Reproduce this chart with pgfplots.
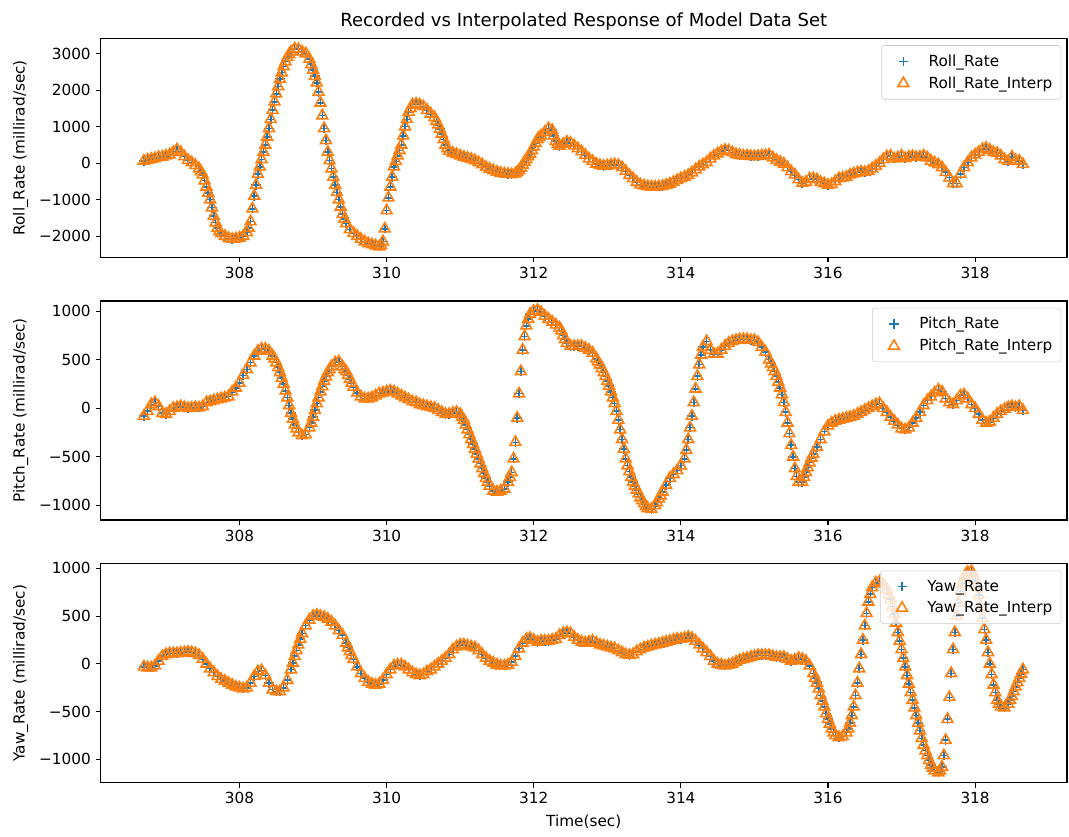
\documentclass[border=0pt]{standalone}
\usepackage{fontspec}
\setmainfont{DejaVu Sans}
\usepackage{pgfplots}
\usepackage{pgfplotstable}
\pgfplotsset{compat=1.18}
\definecolor{cA}{HTML}{1F77B4}
\definecolor{cB}{HTML}{FF7F0E}

\pgfplotstableread{
t v
306.70 60
306.75 90
306.80 110
306.85 130
306.90 160
306.95 170
307.00 200
307.05 230
307.10 300
307.15 370
307.20 300
307.25 180
307.30 80
307.35 20
307.40 -60
307.45 -150
307.50 -320
307.55 -650
307.60 -1000
307.65 -1450
307.70 -1780
307.75 -1930
307.80 -2000
307.85 -2060
307.90 -2080
307.95 -2070
308.00 -2050
308.05 -2000
308.10 -1900
308.15 -1600
308.20 -900
308.25 -300
308.30 100
308.35 500
308.40 950
308.45 1450
308.50 1900
308.55 2300
308.60 2650
308.65 2900
308.70 3050
308.75 3130
308.80 3120
308.85 3050
308.90 3000
308.95 2850
309.00 2550
309.05 2200
309.10 1650
309.15 950
309.20 300
309.25 -150
309.30 -600
309.35 -1000
309.40 -1400
309.45 -1650
309.50 -1820
309.55 -1920
309.60 -2000
309.65 -2080
309.70 -2150
309.75 -2200
309.80 -2230
309.85 -2260
309.90 -2290
309.95 -2150
310.00 -1300
310.05 -650
310.10 -100
310.15 200
310.20 500
310.25 1000
310.30 1400
310.35 1600
310.40 1620
310.45 1600
310.50 1550
310.55 1450
310.60 1350
310.65 1250
310.70 1050
310.75 800
310.80 500
310.85 330
310.90 280
310.95 240
311.00 200
311.05 170
311.10 140
311.15 110
311.20 70
311.25 20
311.30 -40
311.35 -110
311.40 -160
311.45 -200
311.50 -240
311.55 -270
311.60 -290
311.65 -300
311.70 -310
311.75 -290
311.80 -200
311.85 -50
311.90 100
311.95 250
312.00 450
312.05 650
312.10 750
312.15 850
312.20 950
312.25 900
312.30 600
312.35 470
312.40 520
312.45 580
312.50 550
312.55 480
312.60 400
312.65 320
312.70 220
312.75 120
312.80 50
312.85 -20
312.90 -60
312.95 -80
313.00 -70
313.05 -50
313.10 -40
313.15 -60
313.20 -120
313.25 -220
313.30 -330
313.35 -420
313.40 -520
313.45 -590
313.50 -620
313.55 -640
313.60 -650
313.65 -650
313.70 -640
313.75 -630
313.80 -600
313.85 -570
313.90 -520
313.95 -470
314.00 -420
314.05 -380
314.10 -330
314.15 -260
314.20 -180
314.25 -100
314.30 -40
314.35 20
314.40 120
314.45 200
314.50 260
314.55 320
314.60 360
314.65 340
314.70 290
314.75 240
314.80 220
314.85 200
314.90 200
314.95 190
315.00 180
315.05 190
315.10 200
315.15 210
315.20 230
315.25 150
315.30 80
315.35 30
315.40 -20
315.45 -120
315.50 -230
315.55 -320
315.60 -450
315.65 -550
315.70 -520
315.75 -430
315.80 -420
315.85 -450
315.90 -520
315.95 -560
316.00 -600
316.05 -580
316.10 -500
316.15 -420
316.20 -400
316.25 -380
316.30 -320
316.35 -290
316.40 -260
316.45 -240
316.50 -250
316.55 -220
316.60 -150
316.65 -80
316.70 0
316.75 100
316.80 180
316.85 200
316.90 120
316.95 150
317.00 200
317.05 130
317.10 170
317.15 190
317.20 160
317.25 170
317.30 200
317.35 150
317.40 60
317.45 10
317.50 -40
317.55 -120
317.60 -250
317.65 -400
317.70 -560
317.75 -560
317.80 -300
317.85 -120
317.90 20
317.95 150
318.00 230
318.05 300
318.10 380
318.15 410
318.20 360
318.25 300
318.30 270
318.35 200
318.40 100
318.45 50
318.50 170
318.55 80
318.60 60
318.65 -30
307.475 -230
307.525 -480
307.575 -820
307.625 -1220
307.675 -1630
307.725 -1870
308.125 -1780
308.175 -1250
308.225 -600
308.275 -100
308.325 300
308.375 720
308.425 1200
308.475 1680
308.525 2100
308.575 2480
308.625 2780
308.675 2980
308.975 2700
309.025 2380
309.075 1950
309.125 1300
309.175 620
309.225 70
309.275 -380
309.325 -800
309.375 -1200
309.425 -1530
309.925 -2250
309.975 -1800
310.025 -950
310.075 -380
310.125 50
310.175 350
310.225 750
310.275 1200
310.325 1500
310.675 1150
310.725 930
310.775 650
310.825 400
311.775 -250
311.825 -130
311.875 30
311.925 180
311.975 350
312.025 550
312.075 700
312.275 750
312.325 520
}\roll

\pgfplotstableread{
t v
306.70 -80
306.75 -30
306.80 40
306.85 60
306.90 20
306.95 -50
307.00 -60
307.05 -30
307.10 0
307.15 10
307.20 20
307.25 10
307.30 0
307.35 5
307.40 10
307.45 5
307.50 20
307.55 60
307.60 70
307.65 80
307.70 90
307.75 100
307.80 110
307.85 120
307.90 170
307.95 210
308.00 260
308.05 340
308.10 400
308.15 470
308.20 540
308.25 590
308.30 610
308.35 610
308.40 590
308.45 540
308.50 470
308.55 370
308.60 250
308.65 110
308.70 -50
308.75 -170
308.80 -250
308.85 -280
308.90 -270
308.95 -200
309.00 -90
309.05 50
309.10 170
309.15 280
309.20 370
309.25 430
309.30 470
309.35 480
309.40 430
309.45 380
309.50 300
309.55 220
309.60 160
309.65 120
309.70 100
309.75 100
309.80 110
309.85 130
309.90 150
309.95 160
310.00 170
310.05 180
310.10 170
310.15 150
310.20 130
310.25 110
310.30 90
310.35 70
310.40 60
310.45 40
310.50 30
310.55 20
310.60 10
310.65 0
310.70 -20
310.75 -40
310.80 -60
310.85 -60
310.90 -50
310.95 -40
311.00 -60
311.05 -120
311.10 -220
311.15 -320
311.20 -420
311.25 -520
311.30 -620
311.35 -720
311.40 -800
311.45 -850
311.50 -860
311.55 -850
311.60 -830
311.65 -760
311.70 -660
311.75 -350
311.80 150
311.85 600
311.90 850
311.95 970
312.00 1000
312.05 1010
312.10 990
312.15 950
312.20 920
312.25 890
312.30 860
312.35 830
312.40 750
312.45 670
312.50 640
312.55 640
312.60 640
312.65 640
312.70 620
312.75 600
312.80 570
312.85 510
312.90 450
312.95 370
313.00 280
313.05 170
313.10 50
313.15 -120
313.20 -320
313.25 -520
313.30 -650
313.35 -760
313.40 -840
313.45 -920
313.50 -980
313.55 -1030
313.60 -1040
313.65 -1000
313.70 -930
313.75 -860
313.80 -790
313.85 -720
313.90 -680
313.95 -640
314.00 -590
314.05 -520
314.10 -320
314.15 -80
314.20 200
314.25 450
314.30 630
314.35 690
314.40 600
314.45 560
314.50 560
314.55 600
314.60 640
314.65 670
314.70 690
314.75 700
314.80 710
314.85 710
314.90 710
314.95 700
315.00 700
315.05 680
315.10 630
315.15 580
315.20 500
315.25 420
315.30 330
315.35 210
315.40 60
315.45 -150
315.50 -380
315.55 -620
315.60 -760
315.65 -760
315.70 -660
315.75 -560
315.80 -470
315.85 -400
315.90 -320
315.95 -240
316.00 -180
316.05 -150
316.10 -130
316.15 -120
316.20 -110
316.25 -100
316.30 -90
316.35 -80
316.40 -60
316.45 -40
316.50 -20
316.55 0
316.60 20
316.65 40
316.70 50
316.75 0
316.80 -40
316.85 -90
316.90 -130
316.95 -170
317.00 -210
317.05 -220
317.10 -200
317.15 -150
317.20 -100
317.25 -40
317.30 30
317.35 80
317.40 120
317.45 160
317.50 190
317.55 170
317.60 100
317.65 60
317.70 40
317.75 80
317.80 130
317.85 140
317.90 100
317.95 40
318.00 0
318.05 -60
318.10 -120
318.15 -150
318.20 -140
318.25 -100
318.30 -60
318.35 -30
318.40 -10
318.45 10
318.50 20
318.55 10
318.60 20
318.65 -20
308.475 510
308.525 420
308.575 310
308.625 180
308.675 30
308.725 -110
308.775 -210
308.975 -150
309.025 -20
309.075 110
309.125 225
309.175 325
309.225 400
309.425 400
309.475 340
309.525 260
311.025 -90
311.075 -170
311.125 -270
311.175 -370
311.225 -470
311.275 -570
311.325 -670
311.375 -760
311.675 -710
311.725 -520
311.775 -100
311.825 380
311.875 740
311.925 920
312.375 800
312.425 710
312.875 480
312.925 410
312.975 330
313.025 230
313.075 110
313.125 -30
313.175 -220
313.225 -420
313.275 -590
313.325 -710
313.375 -800
313.425 -880
313.475 -950
313.525 -1010
313.675 -970
313.725 -900
314.075 -430
314.125 -200
314.175 60
314.225 330
314.275 550
315.225 460
315.275 380
315.325 270
315.375 140
315.425 -40
315.475 -260
315.525 -500
315.575 -700
315.675 -710
315.725 -610
315.775 -510
}\pitch

\pgfplotstableread{
t v
306.70 -30
306.75 -40
306.80 -40
306.85 -20
306.90 30
306.95 80
307.00 100
307.05 110
307.10 110
307.15 110
307.20 115
307.25 120
307.30 125
307.35 120
307.40 110
307.45 90
307.50 50
307.55 0
307.60 -50
307.65 -90
307.70 -130
307.75 -160
307.80 -180
307.85 -200
307.90 -220
307.95 -240
308.00 -250
308.05 -260
308.10 -250
308.15 -200
308.20 -130
308.25 -80
308.30 -70
308.35 -120
308.40 -200
308.45 -270
308.50 -290
308.55 -290
308.60 -250
308.65 -170
308.70 -60
308.75 80
308.80 200
308.85 320
308.90 400
308.95 460
309.00 500
309.05 510
309.10 500
309.15 490
309.20 470
309.25 440
309.30 400
309.35 350
309.40 300
309.45 220
309.50 130
309.55 50
309.60 -30
309.65 -100
309.70 -150
309.75 -190
309.80 -210
309.85 -220
309.90 -210
309.95 -170
310.00 -110
310.05 -60
310.10 -20
310.15 -10
310.20 -10
310.25 -30
310.30 -60
310.35 -90
310.40 -110
310.45 -120
310.50 -110
310.55 -80
310.60 -60
310.65 -30
310.70 0
310.75 30
310.80 60
310.85 100
310.90 150
310.95 180
311.00 200
311.05 200
311.10 190
311.15 180
311.20 170
311.25 140
311.30 100
311.35 60
311.40 30
311.45 10
311.50 -10
311.55 -20
311.60 -20
311.65 -10
311.70 20
311.75 80
311.80 160
311.85 220
311.90 260
311.95 270
312.00 250
312.05 230
312.10 240
312.15 240
312.20 240
312.25 250
312.30 260
312.35 300
312.40 320
312.45 330
312.50 320
312.55 280
312.60 250
312.65 230
312.70 220
312.75 230
312.80 240
312.85 220
312.90 200
312.95 190
313.00 180
313.05 170
313.10 160
313.15 140
313.20 120
313.25 100
313.30 90
313.35 100
313.40 130
313.45 150
313.50 170
313.55 180
313.60 190
313.65 200
313.70 210
313.75 220
313.80 230
313.85 240
313.90 250
313.95 260
314.00 260
314.05 270
314.10 280
314.15 270
314.20 240
314.25 200
314.30 160
314.35 120
314.40 80
314.45 30
314.50 0
314.55 -10
314.60 -20
314.65 -10
314.70 0
314.75 20
314.80 40
314.85 50
314.90 60
314.95 70
315.00 80
315.05 90
315.10 90
315.15 90
315.20 90
315.25 80
315.30 70
315.35 70
315.40 70
315.45 50
315.50 30
315.55 40
315.60 60
315.65 50
315.70 30
315.75 -20
315.80 -100
315.85 -200
315.90 -330
315.95 -450
316.00 -580
316.05 -680
316.10 -750
316.15 -770
316.20 -760
316.25 -720
316.30 -620
316.35 -450
316.40 -200
316.45 100
316.50 400
316.55 650
316.60 800
316.65 850
316.70 860
316.75 840
316.80 780
316.85 680
316.90 520
316.95 330
317.00 150
317.05 -30
317.10 -210
317.15 -380
317.20 -540
317.25 -700
317.30 -850
317.35 -960
317.40 -1060
317.45 -1120
317.50 -1140
317.55 -1080
317.60 -800
317.65 -350
317.70 150
317.75 500
317.80 760
317.85 900
317.90 960
317.95 970
318.00 880
318.05 720
318.10 480
318.15 250
318.20 0
318.25 -220
318.30 -380
318.35 -450
318.40 -460
318.45 -420
318.50 -340
318.55 -240
318.60 -150
318.65 -60
308.725 10
308.775 140
308.825 260
309.475 170
309.525 90
315.825 -150
315.875 -260
315.925 -390
315.975 -520
316.025 -630
316.075 -720
316.275 -680
316.325 -540
316.375 -330
316.425 -50
316.475 250
316.525 530
316.575 730
316.825 730
316.875 600
316.925 430
316.975 240
317.025 60
317.075 -120
317.125 -300
317.175 -460
317.225 -620
317.275 -780
317.325 -910
317.375 -1010
317.425 -1090
317.525 -1120
317.575 -960
317.625 -580
317.675 -100
317.725 330
317.775 640
317.825 840
317.875 940
317.975 940
318.025 800
318.075 600
318.125 360
318.175 120
318.225 -110
318.275 -300
318.325 -420
318.475 -380
318.525 -290
318.575 -195
318.625 -105
}\yaw

\begin{document}
\begin{tikzpicture}
\path[use as bounding box] (0,0) rectangle (769.68pt,601.92pt);
\pgfplotsset{
  every axis/.append style={
    scale only axis, width=695.9pt, height=157.7pt, anchor=south west,
    xmin=306.11, xmax=319.25,
    xtick={308,310,312,314,316,318},
    xticklabels={308,310,312,314,316,318},
    tick align=outside, tick pos=left,
    major tick length=3.5pt,
    every tick/.style={black, line width=0.8pt},
    axis line style={line width=0.8pt},
    tick label style={font=\fontsize{11}{13}\selectfont},
    label style={font=\fontsize{11}{13}\selectfont},
    ylabel shift=1pt,
    legend image code/.code={\path (0pt,0pt) (22pt,0pt); \draw[##1] plot coordinates {(11pt,0pt)};},
    legend style={at={(1,1)}, anchor=north east, xshift=-4pt, yshift=-5pt,
      draw=black!20, fill=white, fill opacity=0.8, text opacity=1,
      rounded corners=2pt, font=\fontsize{11}{13}\selectfont,
      inner xsep=4.4pt, inner ysep=4.5pt, row sep=2pt, column sep=5pt,
      cells={anchor=west}},
  },
  recs/.style={only marks, mark=+, color=cA, mark size=3.3pt, mark options={line width=1.1pt}},
  ints/.style={only marks, mark=triangle, color=cB, mark size=4.5pt, mark options={draw=cB, fill=none, line width=1.15pt}},
}
\begin{axis}[at={(72.36pt,416.66pt)},
  ymin=-2580, ymax=3420,
  ytick={-2000,-1000,0,1000,2000,3000},
  yticklabels={−2000,−1000,0,1000,2000,3000},
  ylabel={Roll\_Rate (millirad/sec)},
  title={Recorded vs Interpolated Response of Model Data Set},
  title style={font=\fontsize{13}{15}\selectfont, yshift=-3.5pt}]
\addplot[recs] table {\roll};
\addlegendentry{Roll\_Rate}
\addplot[ints] table {\roll};
\addlegendentry{Roll\_Rate\_Interp}
\end{axis}
\begin{axis}[at={(72.36pt,227.52pt)},
  ymin=-1150, ymax=1105,
  ytick={-1000,-500,0,500,1000},
  yticklabels={−1000,−500,0,500,1000},
  ylabel={Pitch\_Rate (millirad/sec)}]
\addplot[recs] table {\pitch};
\addlegendentry{Pitch\_Rate}
\addplot[ints] table {\pitch};
\addlegendentry{Pitch\_Rate\_Interp}
\end{axis}
\begin{axis}[at={(72.36pt,38.38pt)},
  ymin=-1245, ymax=1050,
  ytick={-1000,-500,0,500,1000},
  yticklabels={−1000,−500,0,500,1000},
  ylabel={Yaw\_Rate (millirad/sec)},
  xlabel={Time(sec)}, xlabel style={yshift=-1pt}]
\addplot[recs] table {\yaw};
\addlegendentry{Yaw\_Rate}
\addplot[ints] table {\yaw};
\addlegendentry{Yaw\_Rate\_Interp}
\end{axis}
\end{tikzpicture}
\end{document}
